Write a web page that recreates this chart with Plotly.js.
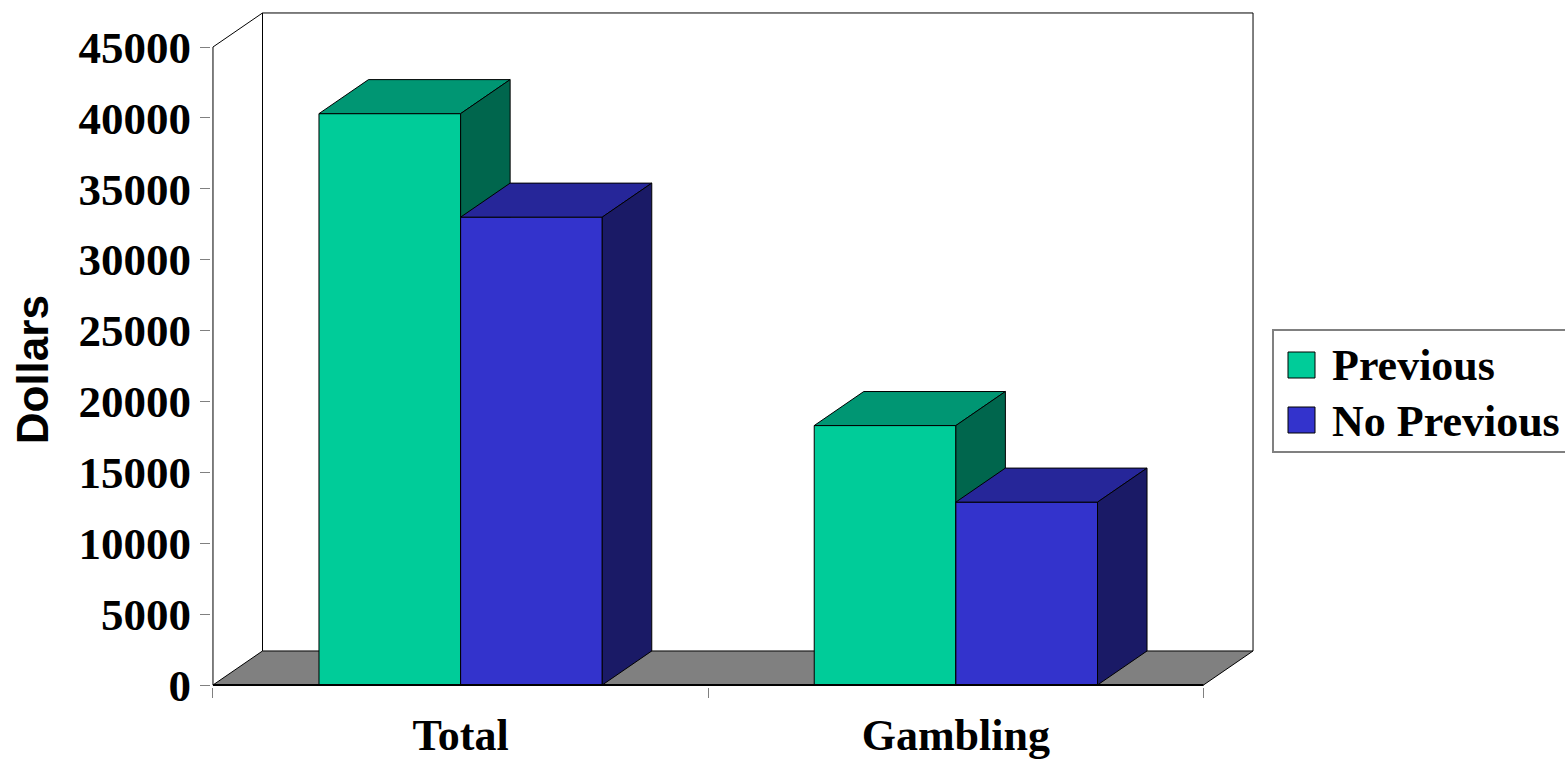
<!DOCTYPE html>
<html>
<head>
<meta charset="utf-8">
<script src="https://cdn.plot.ly/plotly-3.0.1.min.js"></script>
<style>html,body{margin:0;padding:0;background:#fff;}#chart{width:1565px;height:759px;}</style>
</head>
<body>
<div id="chart"></div>
<script>
// ---- data ----
const categories = ['Total', 'Gambling'];
const seriesNames = ['Previous', 'No Previous'];
const previous = [40300, 18300];
const noPrevious = [33000, 12900];
const yTickVals = [0, 5000, 10000, 15000, 20000, 25000, 30000, 35000, 40000, 45000];
const yTitle = 'Dollars';

// ---- style constants ----
const BAR_W = 0.286;      // bar width in category units
const DX = 0.1;           // 3D depth offset, x (category units)
const DY = 2400;          // 3D depth offset, y (data units)
const YMAX = 45000;
const colors = {
  prev: {front: '#00CC99', top: '#009673', side: '#00664D'},
  nop:  {front: '#3333CC', top: '#262699', side: '#1A1A66'}
};
const W = 1565, H = 759;
const M = {l: 211, r: 310, t: 10, b: 72};
const plotW = W - M.l - M.r, plotH = H - M.t - M.b;
const XR = [-0.504, 1.604];
const YR = [-141, 47610];
const xp = px => (px - M.l) / plotW;
const yp = py => (H - M.b - py) / plotH;

const xIdx = categories.map((c, i) => i);
const serif = 'Liberation Serif, Times New Roman, serif';

function faces(values, offset) {
  const top = {x: [], y: []}, side = {x: [], y: []};
  values.forEach((v, i) => {
    const x0 = xIdx[i] + offset, x1 = x0 + BAR_W;
    top.x.push(x0, x1, x1 + DX, x0 + DX, x0, null);
    top.y.push(v, v, v + DY, v + DY, v, null);
    side.x.push(x1, x1, x1 + DX, x1 + DX, x1, null);
    side.y.push(0, v, v + DY, DY, 0, null);
  });
  return {top, side};
}

function seriesTraces(values, offset, col, name, xa, ya) {
  const f = faces(values, offset);
  return [
    {type: 'bar', x: xIdx, y: values, width: BAR_W, offset: offset, name: name,
     marker: {color: col.front, line: {color: '#000', width: 1}},
     xaxis: xa, yaxis: ya, showlegend: false, hoverinfo: 'y'},
    {type: 'scatter', mode: 'lines', x: f.top.x, y: f.top.y, fill: 'toself',
     fillcolor: col.top, line: {color: '#000', width: 1}, xaxis: xa, yaxis: ya,
     showlegend: false, hoverinfo: 'skip', cliponaxis: false},
    {type: 'scatter', mode: 'lines', x: f.side.x, y: f.side.y, fill: 'toself',
     fillcolor: col.side, line: {color: '#000', width: 1}, xaxis: xa, yaxis: ya,
     showlegend: false, hoverinfo: 'skip', cliponaxis: false}
  ];
}

const traces = [
  ...seriesTraces(previous, -BAR_W, colors.prev, seriesNames[0], 'x', 'y'),
  ...seriesTraces(noPrevious, 0, colors.nop, seriesNames[1], 'x2', 'y2')
];

const x0 = -0.5, x1 = categories.length - 0.5;
const shapes = [
  // floor
  {type: 'path', xref: 'x', yref: 'y', layer: 'below',
   path: `M${x0},0 L${x1},0 L${x1 + DX},${DY} L${x0 + DX},${DY} Z`,
   fillcolor: '#808080', line: {color: '#000', width: 1}},
  // back wall
  {type: 'path', xref: 'x', yref: 'y', layer: 'below',
   path: `M${x0 + DX},${DY} L${x0 + DX},${YMAX + DY} L${x1 + DX},${YMAX + DY} L${x1 + DX},${DY}`,
   line: {color: '#000', width: 1}},
  // left axis + diagonal
  {type: 'path', xref: 'x', yref: 'y', layer: 'below',
   path: `M${x0},0 L${x0},${YMAX} L${x0 + DX},${YMAX + DY}`,
   line: {color: '#000', width: 1}},
  // front baseline
  {type: 'line', xref: 'x', yref: 'y', layer: 'above', x0: x0, x1: x1, y0: 0, y1: 0,
   line: {color: '#000', width: 2}},
  // legend box
  {type: 'rect', xref: 'paper', yref: 'paper', x0: xp(1273), x1: xp(1580), y0: yp(452), y1: yp(330),
   line: {color: '#808080', width: 2}, fillcolor: 'rgba(0,0,0,0)'},
  // legend swatches
  {type: 'rect', xref: 'paper', yref: 'paper', x0: xp(1288), x1: xp(1315), y0: yp(378), y1: yp(352),
   line: {color: '#000', width: 1}, fillcolor: colors.prev.front},
  {type: 'rect', xref: 'paper', yref: 'paper', x0: xp(1288), x1: xp(1315), y0: yp(433), y1: yp(407),
   line: {color: '#000', width: 1}, fillcolor: colors.nop.front}
];

const annotations = [
  {xref: 'paper', yref: 'paper', x: xp(1330), y: yp(366), xanchor: 'left', yanchor: 'middle',
   text: seriesNames[0], showarrow: false, font: {family: serif, size: 44, weight: 'bold', color: '#000'}},
  {xref: 'paper', yref: 'paper', x: xp(1330), y: yp(421), xanchor: 'left', yanchor: 'middle',
   text: seriesNames[1], showarrow: false, font: {family: serif, size: 44, weight: 'bold', color: '#000'}},
  {xref: 'paper', yref: 'y', x: xp(32), y: YMAX / 2 - 300, xanchor: 'center', yanchor: 'middle',
   textangle: -90, text: yTitle, showarrow: false,
   font: {family: 'Liberation Sans, Arial, sans-serif', size: 44, weight: 'bold', color: '#000'}}
];

const layout = {
  width: W, height: H, margin: M,
  paper_bgcolor: '#fff', plot_bgcolor: 'rgba(0,0,0,0)',
  showlegend: false, barmode: 'overlay',
  xaxis: {range: XR, showgrid: false, zeroline: false, showline: false,
    tickmode: 'array', tickvals: xIdx, ticktext: categories, ticks: '',
    ticklabelstandoff: 18,
    tickfont: {family: serif, size: 44, weight: 'bold', color: '#000'},
    minor: {tickvals: [-0.5, 0.5, 1.5], ticks: 'outside', ticklen: 10, tickcolor: '#808080', tickwidth: 1, showgrid: false},
    fixedrange: true},
  yaxis: {range: YR, showgrid: false, zeroline: false, showline: false,
    tickmode: 'array', tickvals: yTickVals, ticktext: yTickVals.map(String),
    ticks: 'outside', ticklen: 10, tickcolor: '#808080', tickwidth: 1,
    tickfont: {family: serif, size: 45, weight: 'bold', color: '#000'},
    fixedrange: true},
  xaxis2: {range: XR, overlaying: 'x', visible: false, fixedrange: true},
  yaxis2: {range: YR, overlaying: 'y', visible: false, fixedrange: true},
  shapes: shapes,
  annotations: annotations
};

Plotly.newPlot('chart', traces, layout, {displayModeBar: false, staticPlot: true});
</script>
</body>
</html>
